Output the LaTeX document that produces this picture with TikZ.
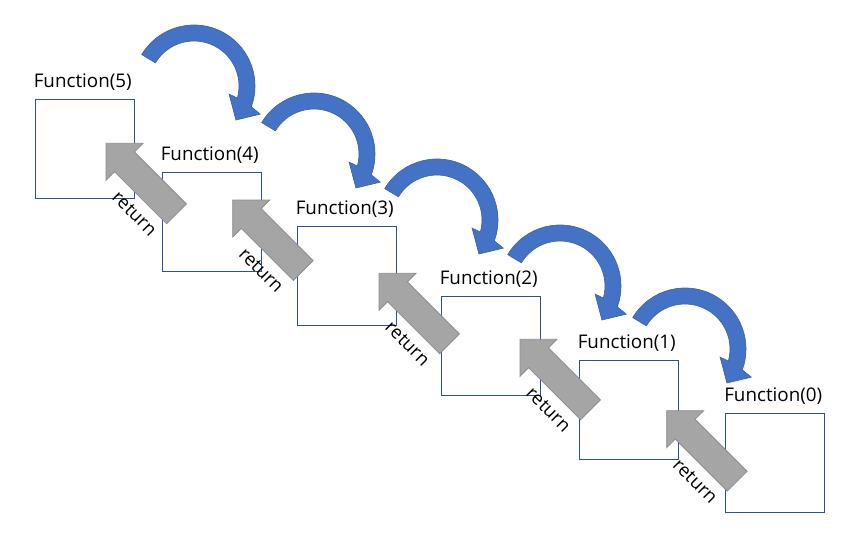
\documentclass[tikz,border=0pt]{standalone}
\usepackage{fontspec}
\setmainfont{Open Sans}
\definecolor{boxblue}{HTML}{2F528F}
\definecolor{arrblue}{HTML}{4472C4}
\definecolor{arrblueedge}{HTML}{3B64AE}
\definecolor{arrgray}{HTML}{A5A5A5}
\definecolor{arrgrayedge}{HTML}{8C8C8C}
\begin{document}
\begin{tikzpicture}[x=0.75pt,y=-0.75pt,
  fbox/.style={draw=boxblue, line width=0.75pt, minimum width=74.6pt, minimum height=74.6pt, inner sep=0pt, anchor=north west},
  flabel/.style={anchor=base west, inner sep=0pt, font=\fontsize{14.1}{17}\selectfont},
  garrow/.style={fill=arrgray, draw=arrgrayedge, line width=0.6pt},
  barrow/.style={fill=arrblue, draw=arrblueedge, line width=0.5pt},
  retlabel/.style={rotate=-45, inner sep=0pt, font=\fontsize{13.8}{16}\selectfont},
  recurse/.pic={
    \filldraw[barrow] (-149:61) arc[start angle=-149, end angle=20, radius=61]
      -- (23:72) -- (39:54) -- (13:36) -- (15.5:45)
      arc[start angle=15.5, end angle=-149, radius=45] -- cycle;
  },
  retarrow/.pic={
    \filldraw[garrow] (0,0) -- (37,0) -- (28.4,8.6) -- (80.4,60.6) -- (60.6,80.4) -- (8.6,28.4) -- (0,37) -- cycle;
    \node[retlabel] (-txt) at (28.5,70.5) {return};
  }]
\useasboundingbox (0,0) rectangle (851,533);
% boxes
\node[fbox] (f5) at (34.5,98.5) {};
\node[fbox] (f4) at (161.5,171.5) {};
\node[fbox] (f3) at (296.5,225.5) {};
\node[fbox] (f2) at (440.5,295.5) {};
\node[fbox] (f1) at (578.5,360) {};
\node[fbox] (f0) at (725,412.5) {};
% labels
\node[flabel] (l5) at (33.5,87.2) {Function(5)};
\node[flabel] (l4) at (160.5,160.2) {Function(4)};
\node[flabel] (l3) at (295.5,214.2) {Function(3)};
\node[flabel] (l2) at (439.5,284.2) {Function(2)};
\node[flabel] (l1) at (577.5,348.7) {Function(1)};
\node[flabel] (l0) at (724,401.2) {Function(0)};
% recursive call arrows
\pic (c5) at (194,86) {recurse};
\pic (c4) at (314,154) {recurse};
\pic (c3) at (437,220) {recurse};
\pic (c2) at (560,286) {recurse};
\pic (c1) at (685,349) {recurse};
% return arrows
\pic (r4) at (106,143.3) {retarrow};
\pic (r3) at (232.7,200) {retarrow};
\pic (r2) at (379,273.3) {retarrow};
\pic (r1) at (520,339.3) {retarrow};
\pic (r0) at (666.7,410.7) {retarrow};
\end{tikzpicture}
\end{document}
